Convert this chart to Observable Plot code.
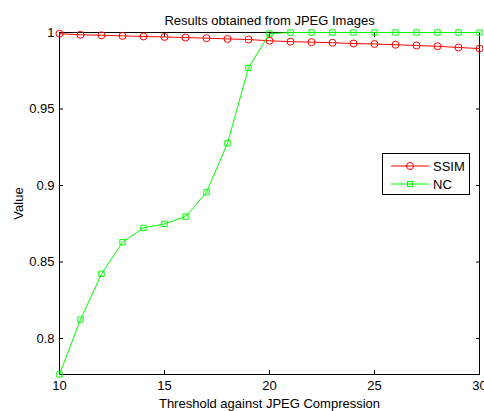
<!DOCTYPE html>
<html>
<head>
<meta charset="utf-8">
<script src="https://cdn.jsdelivr.net/npm/d3@7"></script>
<script src="https://cdn.jsdelivr.net/npm/@observablehq/plot@0.6"></script>
<style>
  html, body { margin: 0; padding: 0; background: #fff; }
  #wrap { position: relative; width: 484px; height: 411px; font-family: "Liberation Sans", Arial, Helvetica, sans-serif; }
  #legend { position: absolute; left: 382px; top: 153px; width: 88px; height: 42px; border: 1px solid #000; background: #fff; box-sizing: border-box; }
  #legend .row { position: absolute; left: 0; height: 16px; display: flex; align-items: center; font-size: 13px; color: #000; }
  #legend svg { display: block; }
</style>
</head>
<body>
<div id="wrap"></div>
<script>
const title = "Results obtained from JPEG Images";
const xLabel = "Threshold against JPEG Compression";
const yLabel = "Value";
const thresholds = [10,11,12,13,14,15,16,17,18,19,20,21,22,23,24,25,26,27,28,29,30];
const ssim = [0.9992,0.9985,0.9982,0.9978,0.9974,0.9971,0.9967,0.9963,0.9958,0.9954,0.9946,0.9940,0.9937,0.9933,0.9928,0.9925,0.9920,0.9915,0.9910,0.9902,0.9895];
const nc = [0.7765,0.8124,0.8423,0.8630,0.8723,0.8749,0.8797,0.8956,0.9277,0.9769,0.9993,1,1,1,1,1,1,1,1,1,1];
const xTicks = [10,15,20,25,30];
const yTicks = [0.8,0.85,0.9,0.95,1];
const seriesNames = ["SSIM","NC"];
const seriesColors = ["#ff0000","#00ff00"];

const ssimData = thresholds.map((t,i) => ({t, v: ssim[i]}));
const ncData = thresholds.map((t,i) => ({t, v: nc[i]}));

const chart = Plot.plot({
  width: 484,
  height: 411,
  marginLeft: 59,
  marginRight: 5,
  marginTop: 32,
  marginBottom: 37,
  style: { fontFamily: '"Liberation Sans", Arial, Helvetica, sans-serif', fontSize: "13px", color: "#000", background: "#fff" },
  x: { domain: [10, 30] },
  y: { domain: [0.7765, 1] },
  marks: [
    Plot.frame({stroke: "#000", strokeWidth: 1}),
    Plot.axisX({ticks: xTicks, anchor: "bottom", tickSize: -4, tickPadding: 10, label: xLabel, labelAnchor: "center", labelOffset: 33, labelArrow: "none", fontSize: 13}),
    Plot.axisX({ticks: xTicks, anchor: "top", tickSize: -4, tickFormat: () => "", label: null}),
    Plot.axisY({ticks: yTicks, anchor: "left", tickSize: -4, tickPadding: 9, tickFormat: d => String(d), label: yLabel, labelAnchor: "center", labelOffset: 46, labelArrow: "none", fontSize: 13}),
    Plot.axisY({ticks: yTicks, anchor: "right", tickSize: -4, tickFormat: () => "", label: null}),
    Plot.line(ssimData, {x: "t", y: "v", stroke: seriesColors[0], strokeWidth: 1}),
    Plot.dot(ssimData, {x: "t", y: "v", stroke: seriesColors[0], r: 3.5, symbol: "circle", fill: "none", strokeWidth: 1}),
    Plot.line(ncData, {x: "t", y: "v", stroke: seriesColors[1], strokeWidth: 1}),
    Plot.dot(ncData, {x: "t", y: "v", stroke: seriesColors[1], r: 3.0, symbol: "square", fill: "none", strokeWidth: 1}),
    Plot.text([title], {frameAnchor: "top", dy: -17, fontSize: 13, fill: "#000"})
  ]
});

const wrap = document.getElementById("wrap");
wrap.appendChild(chart);

const legend = document.createElement("div");
legend.id = "legend";
const symbols = ["circle", "square"];
seriesNames.forEach((name, i) => {
  const row = document.createElement("div");
  row.className = "row";
  row.style.top = (i === 0 ? 4 : 22) + "px";
  row.style.left = "8px";
  const c = seriesColors[i];
  const marker = symbols[i] === "circle"
    ? `<circle cx="19" cy="8" r="3.5" fill="none" stroke="${c}"/>`
    : `<rect x="16.5" y="5.5" width="5" height="5" fill="none" stroke="${c}"/>`;
  row.innerHTML = `<svg width="38" height="16"><line x1="0" x2="38" y1="8" y2="8" stroke="${c}" stroke-width="1"/>${marker}</svg><span style="margin-left:4px">${name}</span>`;
  legend.appendChild(row);
});
wrap.appendChild(legend);
</script>
</body>
</html>
